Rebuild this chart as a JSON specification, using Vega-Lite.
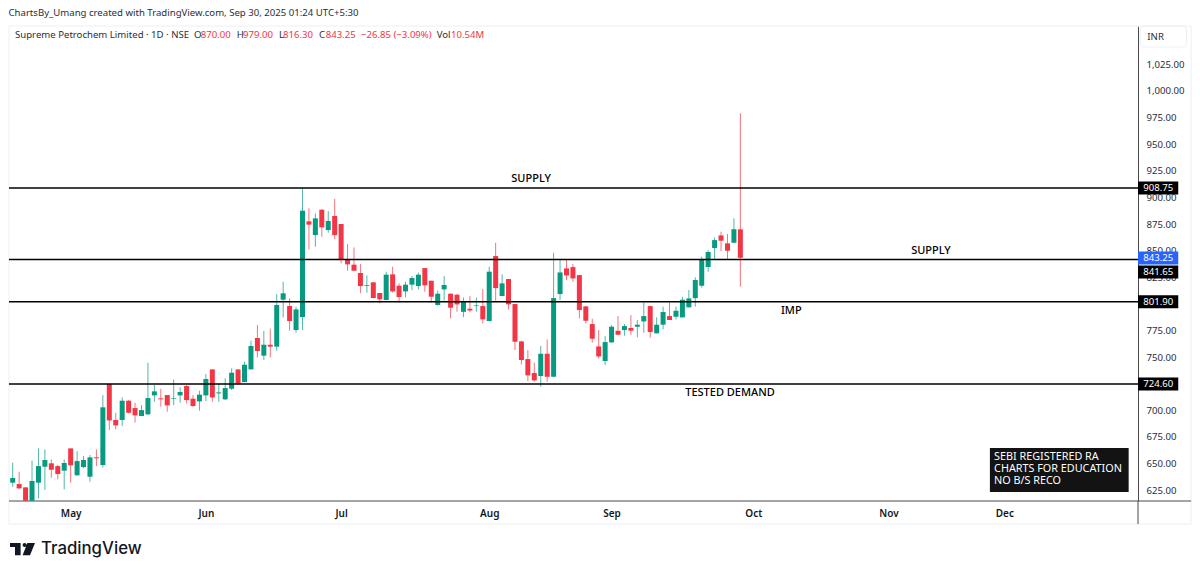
{"$schema":"https://vega.github.io/schema/vega-lite/v6.json","width":1129,"height":475,"autosize":{"type":"none"},"padding":{"left":9,"top":26,"right":62,"bottom":73},"background":"#ffffff","config":{"view":{"stroke":null},"font":"Noto Sans","text":{"font":"Noto Sans"}},"datasets":{"ohlc":[
{"i":0,"o":632.0,"h":650.8,"l":628.2,"c":636.4},{"i":1,"o":630.7,"h":642.3,"l":625.7,"c":626.7},{"i":2,"o":627.6,"h":627.6,"l":615,"c":615},{"i":3,"o":615,"h":652.7,"l":615,"c":633.6},{"i":4,"o":632,"h":664.2,"l":617.3,"c":647.6},{"i":5,"o":647,"h":663.3,"l":625.1,"c":653.3},{"i":6,"o":650.2,"h":653.9,"l":636.7,"c":644.2},{"i":7,"o":647.6,"h":648.6,"l":635.1,"c":640.1},{"i":8,"o":643.3,"h":653.9,"l":625.7,"c":650.5},{"i":9,"o":664.2,"h":664.2,"l":632,"c":648.3},
{"i":10,"o":638.9,"h":661.7,"l":638.9,"c":652.3},{"i":11,"o":646.7,"h":657,"l":645.5,"c":653.3},{"i":12,"o":637.6,"h":658,"l":632.9,"c":655.8},{"i":13,"o":655.8,"h":663.3,"l":647.6,"c":654.9},{"i":14,"o":648.6,"h":714.3,"l":646.4,"c":702.8},{"i":15,"o":724.7,"h":725.3,"l":681.5,"c":690.5},{"i":16,"o":690.9,"h":697.7,"l":682.1,"c":685.8},{"i":17,"o":690.9,"h":712.1,"l":685.2,"c":709},{"i":18,"o":709,"h":709.6,"l":697.1,"c":697.7},{"i":19,"o":702.1,"h":707.1,"l":688.4,"c":695.2},
{"i":20,"o":694.6,"h":704.9,"l":694.6,"c":700.2},{"i":21,"o":696.2,"h":744.7,"l":695.6,"c":711.5},{"i":22,"o":714,"h":723.7,"l":708.1,"c":717.8},{"i":23,"o":711.2,"h":720.3,"l":703.4,"c":710.3},{"i":24,"o":714.3,"h":714.3,"l":698.7,"c":704.6},{"i":25,"o":710.9,"h":729,"l":704.9,"c":711.5},{"i":26,"o":714,"h":721.5,"l":707.1,"c":717.2},{"i":27,"o":722.8,"h":723.7,"l":706.5,"c":709.6},{"i":28,"o":710.9,"h":714.3,"l":703.4,"c":704},{"i":29,"o":708.4,"h":718.4,"l":699.6,"c":714.7},
{"i":30,"o":714,"h":734.1,"l":708.7,"c":729.4},{"i":31,"o":738.4,"h":738.4,"l":708.1,"c":712.1},{"i":32,"o":715.9,"h":724.7,"l":708.1,"c":716.8},{"i":33,"o":710.3,"h":730,"l":709.6,"c":720.9},{"i":34,"o":720.3,"h":739.4,"l":719,"c":735.3},{"i":35,"o":738.4,"h":738.4,"l":724,"c":725.3},{"i":36,"o":726.5,"h":745.6,"l":726.5,"c":742.8},{"i":37,"o":738.5,"h":765.4,"l":738,"c":760.4},{"i":38,"o":767.9,"h":780.1,"l":749.7,"c":755.7},{"i":39,"o":751.3,"h":774.5,"l":747.2,"c":761.6},
{"i":40,"o":761.6,"h":776.7,"l":749.7,"c":759.8},{"i":41,"o":759.8,"h":809.2,"l":756,"c":798.9},{"i":42,"o":803.9,"h":820.8,"l":787.3,"c":809.9},{"i":43,"o":798,"h":805.2,"l":774.8,"c":783.9},{"i":44,"o":775.4,"h":797.3,"l":772.9,"c":794.8},{"i":45,"o":787.6,"h":908.5,"l":775.4,"c":887.5},{"i":46,"o":877.5,"h":889.7,"l":851.2,"c":874.4},{"i":47,"o":864.6,"h":885,"l":853.7,"c":880.3},{"i":48,"o":888.4,"h":889,"l":863.1,"c":871.8},{"i":49,"o":869.3,"h":887.2,"l":866.8,"c":877.8},
{"i":50,"o":882.5,"h":898.5,"l":860.9,"c":864.6},{"i":51,"o":875,"h":875,"l":838,"c":841.2},{"i":52,"o":841.5,"h":856.2,"l":831.1,"c":837.1},{"i":53,"o":836.8,"h":853,"l":831.1,"c":831.1},{"i":54,"o":829,"h":837.4,"l":809.9,"c":816.7},{"i":55,"o":817,"h":826.8,"l":810.5,"c":817.7},{"i":56,"o":820.2,"h":820.2,"l":805.2,"c":805.5},{"i":57,"o":810.2,"h":810.2,"l":800.5,"c":804.2},{"i":58,"o":803.6,"h":830.2,"l":803.6,"c":827.4},{"i":59,"o":827.7,"h":834.9,"l":810.5,"c":811.7},
{"i":60,"o":817,"h":819.2,"l":801.1,"c":806.4},{"i":61,"o":811.7,"h":820.8,"l":806.1,"c":818},{"i":62,"o":818,"h":826.1,"l":813,"c":824.3},{"i":63,"o":816.7,"h":829.3,"l":813.6,"c":827.4},{"i":64,"o":833.6,"h":833.6,"l":811.4,"c":817.4},{"i":65,"o":821.7,"h":821.7,"l":801.1,"c":806.7},{"i":66,"o":798.9,"h":812.4,"l":798.3,"c":809.5},{"i":67,"o":813.6,"h":826.1,"l":803,"c":817.7},{"i":68,"o":809.5,"h":809.9,"l":786.4,"c":796.4},{"i":69,"o":808.6,"h":809.2,"l":792.6,"c":799.5},
{"i":70,"o":792.5,"h":806,"l":787.5,"c":802.6},{"i":71,"o":795.4,"h":807.3,"l":792,"c":793.8},{"i":72,"o":797.9,"h":806,"l":792.6,"c":798.5},{"i":73,"o":797.9,"h":813.9,"l":781.6,"c":785.4},{"i":74,"o":783.8,"h":834.9,"l":783.8,"c":830.2},{"i":75,"o":844.9,"h":857.4,"l":802.9,"c":814.8},{"i":76,"o":807.3,"h":827.7,"l":807.3,"c":819.2},{"i":77,"o":823.3,"h":823.3,"l":794.8,"c":799.5},{"i":78,"o":799.8,"h":799.8,"l":756.6,"c":764.4},{"i":79,"o":764.7,"h":765.4,"l":743.1,"c":747.2},
{"i":80,"o":748.1,"h":756.6,"l":727.5,"c":732.8},{"i":81,"o":735,"h":744.7,"l":726.8,"c":728.1},{"i":82,"o":732.2,"h":760.4,"l":722.2,"c":753.1},{"i":83,"o":753.1,"h":766.6,"l":726.8,"c":731.5},{"i":84,"o":731.5,"h":848,"l":731.5,"c":805.4},{"i":85,"o":809.2,"h":841.1,"l":803.6,"c":829.5},{"i":86,"o":833.3,"h":841.8,"l":822.3,"c":826.7},{"i":87,"o":834.5,"h":837.4,"l":820.8,"c":823.9},{"i":88,"o":827,"h":827,"l":786.3,"c":794.2},{"i":89,"o":797.6,"h":797.9,"l":781.6,"c":784.1},
{"i":90,"o":781,"h":786,"l":763.5,"c":767.2},{"i":91,"o":760,"h":775.4,"l":748.8,"c":750.6},{"i":92,"o":746.3,"h":769.7,"l":742.5,"c":764.1},{"i":93,"o":763.8,"h":780.1,"l":763.5,"c":778.5},{"i":94,"o":774.7,"h":788.5,"l":770.7,"c":771},{"i":95,"o":775.4,"h":781,"l":770,"c":779.1},{"i":96,"o":777.3,"h":789.5,"l":771,"c":774.8},{"i":97,"o":778.5,"h":784.8,"l":768.5,"c":780.4},{"i":98,"o":783.5,"h":801.1,"l":772.9,"c":788.5},{"i":99,"o":797.9,"h":797.9,"l":768.2,"c":773.5},
{"i":100,"o":772.3,"h":787.3,"l":772.3,"c":780.4},{"i":101,"o":780.4,"h":797.3,"l":776,"c":792.3},{"i":102,"o":788.5,"h":801.1,"l":784.8,"c":784.8},{"i":103,"o":787.9,"h":797.3,"l":785.4,"c":793.5},{"i":104,"o":787.3,"h":806.7,"l":787.3,"c":803.9},{"i":105,"o":796.7,"h":813,"l":796.7,"c":805.1},{"i":106,"o":805.4,"h":824.9,"l":797.3,"c":822.4},{"i":107,"o":817,"h":844.3,"l":815.2,"c":841.8},{"i":108,"o":834.6,"h":850.5,"l":830.2,"c":848.7},{"i":109,"o":852.4,"h":862.4,"l":841.8,"c":859.9},
{"i":110,"o":864.3,"h":867.8,"l":849.6,"c":859.3},{"i":111,"o":856.8,"h":865.6,"l":841.8,"c":849.9},{"i":112,"o":857.4,"h":880.3,"l":857.4,"c":870.1},{"i":113,"o":870,"h":979,"l":816.3,"c":843.25}
]},"layer":[
{"data":{"values":[{"i":-0.575,"i2":183,"v":1061,"v2":593.2}]},"mark":{"type":"rect","fill":null,"stroke":"#eceff4","strokeWidth":1},"encoding":{"x":{"field":"i","type":"quantitative","scale":{"domain":[-0.575,174.75],"nice":false,"zero":false},"axis":{"title":null,"grid":false,"domain":false,"ticks":false,"values":[9,30,51,74,93,115,136,154],"labelExpr":"{9:'May',30:'Jun',51:'Jul',74:'Aug',93:'Sep',115:'Oct',136:'Nov',154:'Dec'}[datum.value]","labelFont":"Noto Sans","labelFontSize":10,"labelFontWeight":600,"labelColor":"#131722","labelPadding":7,"labelOverlap":false,"labelFlush":false}},"x2":{"field":"i2"},"y":{"field":"v","type":"quantitative","scale":{"domain":[614.8,1061],"nice":false,"zero":false},"axis":{"title":null,"orient":"right","grid":false,"domain":true,"domainColor":"#4a4a4a","ticks":false,"tickCount":40,"values":[625,650,675,700,725,750,775,800,825,850,875,900,925,950,975,1000,1025],"format":",.2f","labelFont":"Noto Sans","labelFontSize":9.6,"labelColor":"#2a2e39","labelPadding":8,"labelAlign":"left","labelOverlap":false,"labelBound":false,"labelFlush":false}},"y2":{"field":"v2"}}},
{"data":{"values":[{"i":175.1,"i2":182.3,"v":1061,"v2":1041.2}]},"mark":{"type":"rect","fill":null,"stroke":"#eceff4","strokeWidth":1,"cornerRadius":4},"encoding":{"x":{"field":"i","type":"quantitative"},"x2":{"field":"i2"},"y":{"field":"v","type":"quantitative"},"y2":{"field":"v2"}}},
{"data":{"values":[{"i":-0.575,"i2":183,"v":614.8}]},"mark":{"type":"rule","color":"#4a4a4a","strokeWidth":1},"encoding":{"x":{"field":"i","type":"quantitative"},"x2":{"field":"i2"},"y":{"field":"v","type":"quantitative"}}},
{"data":{"values":[{"i":174.75,"v":614.8,"v2":593.2}]},"mark":{"type":"rule","color":"#4a4a4a","strokeWidth":1},"encoding":{"x":{"field":"i","type":"quantitative"},"y":{"field":"v","type":"quantitative"},"y2":{"field":"v2"}}},
{"data":{"name":"ohlc"},"mark":{"type":"rule","strokeWidth":1,"opacity":0.7},"encoding":{"x":{"field":"i","type":"quantitative"},"y":{"field":"l","type":"quantitative"},"y2":{"field":"h"},"color":{"condition":{"test":"datum.c >= datum.o","value":"#089981"},"value":"#f23645"}}},
{"data":{"name":"ohlc"},"mark":{"type":"rule","strokeWidth":5,"strokeCap":"butt"},"encoding":{"x":{"field":"i","type":"quantitative"},"y":{"field":"o","type":"quantitative"},"y2":{"field":"c"},"color":{"condition":{"test":"datum.c >= datum.o","value":"#089981"},"value":"#f23645"}}},
{"data":{"values":[{"level":908.75},{"level":841.65},{"level":801.9},{"level":724.6}]},"mark":{"type":"rule","color":"#000000","strokeWidth":1.5},"encoding":{"y":{"field":"level","type":"quantitative"}}},
{"data":{"values":[{"i":174.75,"i2":181,"m":177.9,"v":908.75,"label":"908.75","kind":"level"},{"i":174.75,"i2":181,"m":177.9,"v":829.9,"label":"841.65","kind":"level"},{"i":174.75,"i2":181,"m":177.9,"v":801.9,"label":"801.90","kind":"level"},{"i":174.75,"i2":181,"m":177.9,"v":724.6,"label":"724.60","kind":"level"},{"i":174.75,"i2":181,"m":177.9,"v":843,"label":"843.25","kind":"last"}]},"layer":[{"mark":{"type":"rule","strokeWidth":13},"encoding":{"x":{"field":"i","type":"quantitative"},"x2":{"field":"i2"},"y":{"field":"v","type":"quantitative"},"color":{"field":"kind","type":"nominal","scale":{"domain":["level","last"],"range":["#000000","#2962ff"]},"legend":null}}},{"mark":{"type":"text","color":"#ffffff","fontSize":9.6,"baseline":"middle","align":"center"},"encoding":{"x":{"field":"m","type":"quantitative"},"y":{"field":"v","type":"quantitative"},"text":{"field":"label"}}}]},
{"data":{"values":[{"i":80.5,"v":917.5,"label":"SUPPLY"},{"i":142.6,"v":849.6,"label":"SUPPLY"},{"i":120.9,"v":793,"label":"IMP"},{"i":111.4,"v":716,"label":"TESTED DEMAND"}]},"mark":{"type":"text","color":"#000000","fontSize":11,"fontWeight":500,"baseline":"middle","align":"center"},"encoding":{"x":{"field":"i","type":"quantitative"},"y":{"field":"v","type":"quantitative"},"text":{"field":"label"}}},
{"data":{"values":[{"i":151.75,"i2":173.3,"v":664.5,"v2":623.2}]},"mark":{"type":"rect","fill":"#131313"},"encoding":{"x":{"field":"i","type":"quantitative"},"x2":{"field":"i2"},"y":{"field":"v","type":"quantitative"},"y2":{"field":"v2"}}},
{"data":{"values":[{"i":152.4,"v":656.1,"label":"SEBI REGISTERED RA"},{"i":152.4,"v":644.8,"label":"CHARTS FOR EDUCATION"},{"i":152.4,"v":633.5,"label":"NO B/S RECO"}]},"mark":{"type":"text","color":"#ffffff","fontSize":10.8,"baseline":"middle","align":"left"},"encoding":{"x":{"field":"i","type":"quantitative"},"y":{"field":"v","type":"quantitative"},"text":{"field":"label"}}},
{"data":{"values":[{"i":-0.65,"v":1073.2,"label":"ChartsBy_Umang created with TradingView.com, Sep 30, 2025 01:24 UTC+5:30"},{"i":0.36,"v":1052.2,"label":"Supreme Petrochem Limited · 1D · NSE"},{"i":28.15,"v":1052.2,"label":"O"},{"i":34.8,"v":1052.2,"label":"H"},{"i":41.35,"v":1052.2,"label":"L"},{"i":47.56,"v":1052.2,"label":"C"},{"i":65.84,"v":1052.2,"label":"Vol"},{"i":176.2,"v":1050.6,"label":"INR"}]},"mark":{"type":"text","color":"#2a2e39","fontSize":9.6,"baseline":"middle","align":"left"},"encoding":{"x":{"field":"i","type":"quantitative"},"y":{"field":"v","type":"quantitative"},"text":{"field":"label"}}},
{"data":{"values":[{"i":29.2,"v":1052.2,"label":"870.00"},{"i":35.76,"v":1052.2,"label":"979.00"},{"i":41.97,"v":1052.2,"label":"816.30"},{"i":48.6,"v":1052.2,"label":"843.25"},{"i":54.08,"v":1052.2,"label":"−26.85 (−3.09%)"},{"i":68.06,"v":1052.2,"label":"10.54M"}]},"mark":{"type":"text","color":"#f23645","fontSize":9.6,"baseline":"middle","align":"left"},"encoding":{"x":{"field":"i","type":"quantitative"},"y":{"field":"v","type":"quantitative"},"text":{"field":"label"}}},
{"data":{"values":[{"i":1.52,"v":569.7}]},"mark":{"type":"point","filled":true,"color":"#131722","opacity":1,"size":625,"strokeWidth":0,"shape":"M-1 -0.49L-0.15 -0.49L-0.15 0.49L-0.6 0.49L-0.6 -0.17L-1 -0.17Z M0.01 -0.33A0.16 0.16 0 1 1 0.33 -0.33A0.16 0.16 0 1 1 0.01 -0.33Z M0.39 -0.49L1 -0.49L0.6 0.49L0.01 0.49Z"},"encoding":{"x":{"field":"i","type":"quantitative"},"y":{"field":"v","type":"quantitative"}}},
{"data":{"values":[{"i":4.39,"v":569.7,"label":"TradingView"}]},"mark":{"type":"text","font":"Inter","color":"#131722","fontSize":16.8,"fontWeight":500,"baseline":"middle","align":"left"},"encoding":{"x":{"field":"i","type":"quantitative"},"y":{"field":"v","type":"quantitative"},"text":{"field":"label"}}}
]}
